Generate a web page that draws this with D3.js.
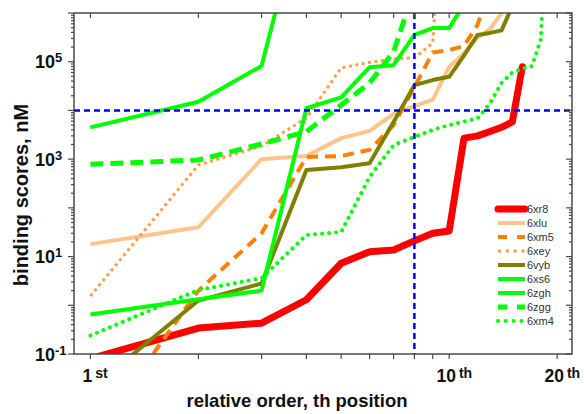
<!DOCTYPE html>
<html>
<head>
<meta charset="utf-8">
<script src="https://cdn.jsdelivr.net/npm/d3@7"></script>
<style>
  html, body { margin: 0; padding: 0; background: #fff; }
  svg { display: block; font-family: "Liberation Sans", Arial, sans-serif; }
</style>
</head>
<body>
<svg id="chart" width="584" height="414"></svg>
<script>
// Binding scores by relative order position, one array per structure
const names = ["6xr8", "6xlu", "6xm5", "6xey", "6vyb", "6xs6", "6zgh", "6zgg", "6xm4"];
const s6xr8 = [0.08, 0.34, 0.43, 1.3, 7.3, 12.6, 13.6, 21, 30, 33.6, 2700, 3000, 3700, 4500, 5800, 79000];
const s6xlu = [18, 40, 1000, 1160, 2700, 3800, 8500, 12300, 16600, 78000, 150000, 310000, 470000, 1000000, 3000000];
const s6xm5 = [0.0016, 2.0, 30, 1110, 1160, 1550, 5000, 30000, 155000, 174000, 210000, 570000, 3400000];
const s6xey = [1.55, 760, 1860, 7000, 74600, 97000, 114000, 120000, 243000, 5e10];
const s6vyb = [0.019, 1.25, 2.8, 600, 680, 820, 5800, 33000, 42000, 49000, 134000, 355000, 390000, 440000, 1400000];
const s6xs6 = [4500, 15100, 82000, 3e8];
const s6zgh = [0.65, 1.33, 2.0, 11100, 18600, 77000, 85000, 355000, 490000, 490000, 1500000];
const s6zgg = [785, 960, 2050, 3670, 12900, 36700, 160000, 3000000];
const s6xm4 = [0.24, 2.06, 3.6, 27.7, 32, 430, 1950, 2860, 4000, 5000, 5900, 6900, 14000, 36700, 60000, 72000, 81000, 280000, 6e8];

// Reference threshold lines
const thresholdScore = 10000;
const thresholdOrder = 8;

// Labelled positions on the order axis
const xTickValues = [1, 10, 20];
const xTickSuffix = ["st", "th", "th"];
const xMinorTicks = [1, 2, 3, 4, 5, 6, 7, 8, 9, 10, 20];
const yLabelExponents = [-1, 1, 3, 5];

const seriesData = [s6xr8, s6xlu, s6xm5, s6xey, s6vyb, s6xs6, s6zgh, s6zgg, s6xm4];

const styles = {
  "6xr8": { color: "#ff0000", width: 7, dash: null, cap: "round" },
  "6xlu": { color: "#ffc38c", width: 4, dash: null, cap: "butt" },
  "6xm5": { color: "#ff8000", width: 4, dash: "11,7", cap: "butt" },
  "6xey": { color: "#ff9c48", width: 3, dash: "3,3.5", cap: "butt" },
  "6vyb": { color: "#808000", width: 4, dash: null, cap: "butt" },
  "6xs6": { color: "#00ff00", width: 4, dash: null, cap: "butt" },
  "6zgh": { color: "#00ff00", width: 4, dash: null, cap: "butt" },
  "6zgg": { color: "#00ff00", width: 5, dash: "13,7", cap: "butt" },
  "6xm4": { color: "#00ff00", width: 4, dash: "0.01,7", cap: "round" }
};
const legendDash = { "6xm5": "9,10", "6zgg": "9,10", "6xey": "3,4.8", "6xm4": "0.01,7.8" };

const svg = d3.select("#chart");
const L = 74, R = 572, T = 13, B = 354;

const x = d3.scaleLog().domain([0.9, 22]).range([L, R]);
const y = d3.scaleLog().domain([0.1, 1e6]).range([B, T]);

svg.append("defs").append("clipPath").attr("id", "plot")
  .append("rect").attr("x", L).attr("y", T).attr("width", R - L).attr("height", B - T);

const plot = svg.append("g").attr("clip-path", "url(#plot)");

const line = d3.line().x(d => x(d[0])).y(d => y(d[1]));

names.forEach((n, i) => {
  const st = styles[n];
  const pts = seriesData[i].map((v, k) => [k + 1, v]);
  plot.append("path")
    .attr("d", line(pts))
    .attr("fill", "none")
    .attr("stroke", st.color)
    .attr("stroke-width", st.width)
    .attr("stroke-dasharray", st.dash)
    .attr("stroke-linecap", st.cap)
    .attr("stroke-linejoin", "round");
});

// threshold guides
plot.append("line")
  .attr("x1", L).attr("x2", R).attr("y1", y(thresholdScore)).attr("y2", y(thresholdScore))
  .attr("stroke", "#0000ff").attr("stroke-width", 2.5).attr("stroke-dasharray", "6,4");
plot.append("line")
  .attr("x1", x(thresholdOrder)).attr("x2", x(thresholdOrder)).attr("y1", T).attr("y2", B)
  .attr("stroke", "#0000ff").attr("stroke-width", 2.5).attr("stroke-dasharray", "6,4");

// frame
const axisColor = "#4a4a4a";
svg.append("rect").attr("x", L).attr("y", T).attr("width", R - L).attr("height", B - T)
  .attr("fill", "none").attr("stroke", axisColor).attr("stroke-width", 1.5);

// x ticks: outward on bottom, inward on top
const ax = svg.append("g").attr("stroke", axisColor).attr("stroke-width", 1.2);
xMinorTicks.forEach(t => {
  ax.append("line").attr("x1", x(t)).attr("x2", x(t)).attr("y1", B).attr("y2", B + 5);
  ax.append("line").attr("x1", x(t)).attr("x2", x(t)).attr("y1", T).attr("y2", T + 5);
});

// y ticks: majors per decade with minors 2..9
const yMajor = d3.range(-1, 7).map(e => Math.pow(10, e));
const yMinor = [];
for (let e = -1; e < 6; e++) for (let m = 2; m <= 9; m++) yMinor.push(m * Math.pow(10, e));
yMajor.forEach(v => {
  ax.append("line").attr("x1", L - 6).attr("x2", L).attr("y1", y(v)).attr("y2", y(v));
  ax.append("line").attr("x1", R - 6).attr("x2", R).attr("y1", y(v)).attr("y2", y(v));
});
yMinor.forEach(v => {
  ax.append("line").attr("x1", L - 3).attr("x2", L).attr("y1", y(v)).attr("y2", y(v));
  ax.append("line").attr("x1", R - 3).attr("x2", R).attr("y1", y(v)).attr("y2", y(v));
});

// y tick labels 10^n
yLabelExponents.forEach(e => {
  const t = svg.append("text")
    .attr("x", 35).attr("y", y(Math.pow(10, e)) + 6.5)
    .attr("font-weight", "bold").attr("font-size", 18).attr("fill", "#111");
  t.append("tspan").text("10");
  t.append("tspan").attr("font-size", 13).attr("dy", -6).text(String(e));
});

// x tick labels with ordinal suffix
xTickValues.forEach((v, i) => {
  const num = svg.append("text")
    .attr("x", x(v) - 3).attr("y", 381.5).attr("text-anchor", "middle")
    .attr("font-weight", "bold").attr("font-size", 17.5).attr("fill", "#111")
    .text(String(v));
  const w = num.node().getComputedTextLength();
  svg.append("text")
    .attr("x", x(v) - 3 + w / 2 + 3).attr("y", 378)
    .attr("font-weight", "bold").attr("font-size", 14).attr("fill", "#111")
    .text(xTickSuffix[i]);
});

// axis titles
svg.append("text")
  .attr("x", 297).attr("y", 407).attr("text-anchor", "middle")
  .attr("font-weight", "bold").attr("font-size", 18.5).attr("fill", "#111")
  .text("relative order, th position");
svg.append("text")
  .attr("transform", "translate(28,195) rotate(-90)").attr("text-anchor", "middle")
  .attr("font-weight", "bold").attr("font-size", 20).attr("fill", "#111")
  .text("binding scores, nM");

// legend
const lg = svg.append("g");
names.forEach((n, i) => {
  const st = styles[n];
  const yy = 209 + i * 14;
  lg.append("line")
    .attr("x1", 498).attr("x2", 525).attr("y1", yy).attr("y2", yy)
    .attr("stroke", st.color)
    .attr("stroke-width", n === "6xr8" ? 7 : st.width)
    .attr("stroke-dasharray", legendDash[n] || null)
    .attr("stroke-linecap", st.cap);
  lg.append("text")
    .attr("x", 527).attr("y", yy + 4)
    .attr("font-size", 11).attr("fill", "#333")
    .text(n);
});
</script>
</body>
</html>
